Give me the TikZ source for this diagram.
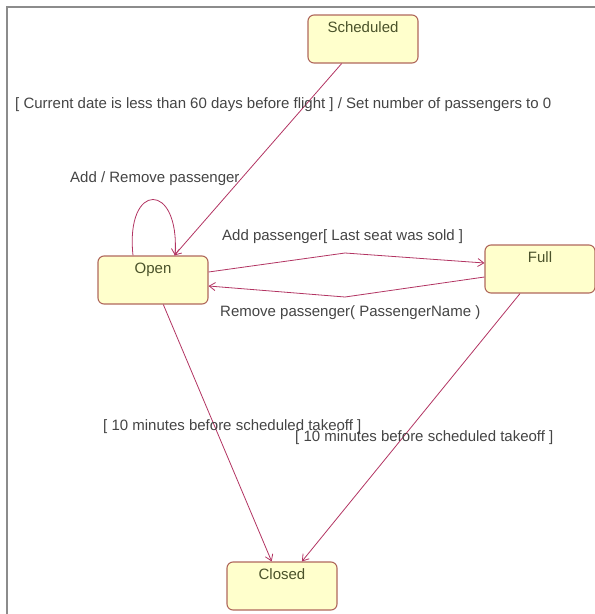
\documentclass[tikz,border=0pt]{standalone}
\usepackage{fontspec}
\setmainfont{Liberation Sans}
\usetikzlibrary{positioning,arrows.meta}
\definecolor{statefill}{RGB}{255,255,204}
\definecolor{stateline}{RGB}{176,104,92}
\definecolor{transred}{RGB}{178,52,98}
\definecolor{labelgray}{RGB}{68,68,68}
\definecolor{stategreen}{RGB}{74,82,42}
\definecolor{framegray}{RGB}{140,140,140}

\begin{document}
\begin{tikzpicture}[
        x=1pt, y=-1pt,
        state/.style={rounded corners=6pt, draw=stateline, line width=1.1pt, fill=statefill, minimum width=110pt, inner ysep=0pt, text height=17pt, text depth=31pt, text=stategreen, font=\fontsize{15}{18}\selectfont},
        trans/.style={-{Straight Barb[length=6pt,width=8pt]}, line width=0.8pt, draw=transred},
        guard/.style={anchor=west, inner sep=0pt, text=labelgray, font=\fontsize{15}{18}\selectfont}
    ]
        \useasboundingbox (0,0) rectangle (595,614);
        \draw[framegray, line width=2pt] (7,614) -- (7,7) -- (595,7);
        % states
        \node[state] (sched) at (363,39) {Scheduled};
        \node[state] (open) at (153,280) {Open};
        \node[state] (full) at (540,269) {Full};
        \node[state] (closed) at (282,586) {Closed};
        \coordinate (upmid) at (345,253);
        \coordinate (lowmid) at (345,297);
        % transitions
        \draw[trans] (sched) -- (open);
        \draw[trans] ([xshift=-20pt]open.north) .. controls (125,181) and (180,181) .. ([xshift=22pt]open.north);
        \draw[trans] ([yshift=8pt]open.east) -- (upmid) -- ([yshift=6pt]full.west);
        \draw[trans] ([yshift=-8pt]full.west) -- (lowmid) -- ([yshift=-6pt]open.east);
        \draw[trans] (open) -- (closed);
        \draw[trans] (full) -- (closed);
        % guards and actions
        \node[guard] (schedlbl) at (15,105) {[ Current date is less than 60 days before flight ] / Set number of passengers to 0};
        \node[guard] (looplbl) at (70,179) {Add / Remove passenger};
        \node[guard] (addlbl) at (222,237) {Add passenger[ Last seat was sold ]};
        \node[guard] (remlbl) at (220,313) {Remove passenger( PassengerName )};
        \node[guard] (openlbl) at (103,427) {[ 10 minutes before scheduled takeoff ]};
        \node[guard] (fulllbl) at (295,438) {[ 10 minutes before scheduled takeoff ]};
\end{tikzpicture}
\end{document}
